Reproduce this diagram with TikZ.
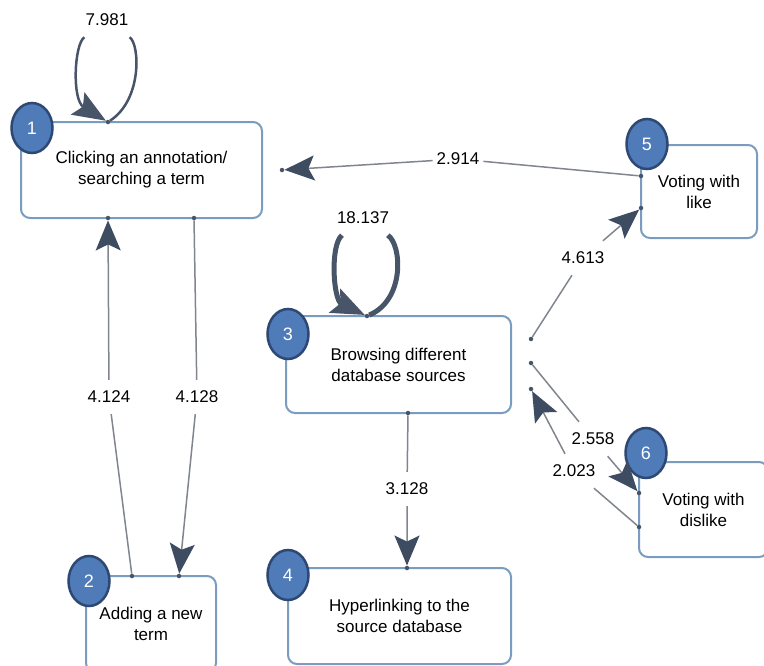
\documentclass[tikz,border=0pt]{standalone}
\usepackage{fontspec}
\setmainfont{Liberation Sans}
\usetikzlibrary{arrows.meta,shapes.geometric}
\definecolor{boxline}{RGB}{122,156,190}
\definecolor{badgefill}{RGB}{79,123,185}
\definecolor{badgeline}{RGB}{45,72,115}
\definecolor{edgegray}{RGB}{128,133,142}
\definecolor{tipdark}{RGB}{62,76,98}
\definecolor{loopdark}{RGB}{72,84,104}
\tikzset{
	statebox/.style={draw=boxline, line width=2pt, rounded corners=9pt, fill=white, align=center, inner sep=0pt, font=\fontsize{17}{21}\selectfont},
	badge/.style={ellipse, draw=badgeline, line width=2.5pt, fill=badgefill, text=white, minimum width=41pt, minimum height=50pt, inner sep=0pt, font=\fontsize{18}{18}\selectfont},
	port/.style={circle, fill=loopdark, inner sep=0pt, minimum size=4.5pt},
	weight/.style={inner xsep=4pt, inner ysep=11pt, font=\fontsize{17}{20}\selectfont},
	flow/.style={draw=edgegray, line width=1.5pt, -{Stealth[length=30pt,width=25pt,inset=6pt,color=tipdark]}},
	selfloop/.style={draw=loopdark, line width=#1, -{Stealth[length=33pt,width=26pt,inset=6pt]}}
}
\begin{document}
\begin{tikzpicture}[x=1pt, y=-1pt]
	\useasboundingbox (0,0) rectangle (764,665);
	\node[statebox, minimum width=241pt, minimum height=96pt] (click) at (141.5,170) {Clicking an annotation/\\searching a term};
	\node[statebox, minimum width=130pt, minimum height=96pt] (addterm) at (151,624) {Adding a new\\term};
	\node[statebox, minimum width=225pt, minimum height=97pt] (browse) at (398.5,364.5) {Browsing different\\database sources};
	\node[statebox, minimum width=223pt, minimum height=96pt] (hyperlink) at (399.5,616) {Hyperlinking to the\\source database};
	\node[statebox, minimum width=116pt, minimum height=93pt] (like) at (699,191.5) {Voting with\\like};
	\node[statebox, minimum width=129pt, minimum height=95pt] (dislike) at (703.5,509.5) {Voting with\\dislike};
	\node[badge] (b1) at (32,128) {1};
	\node[badge] (b2) at (89,581) {2};
	\node[badge] (b3) at (288,334) {3};
	\node[badge] (b4) at (288,575) {4};
	\node[badge] (b5) at (647,144) {5};
	\node[badge] (b6) at (646,453) {6};
	\node[port] (p1t) at (108,122) {};
	\node[port] (p1b) at (108,218) {};
	\node[port] (p1c) at (194,218) {};
	\node[port] (p1r) at (282,170) {};
	\node[port] (p2a) at (132,576) {};
	\node[port] (p2b) at (179,576) {};
	\node[port] (p3t) at (367,316) {};
	\node[port] (p3b) at (408,413) {};
	\node[port] (p3r) at (531,339) {};
	\node[port] (p3s) at (531,363) {};
	\node[port] (p3u) at (531,389) {};
	\node[port] (p4t) at (407,568) {};
	\node[port] (p5a) at (641,176) {};
	\node[port] (p5b) at (641,208) {};
	\node[port] (p6a) at (639,493) {};
	\node[port] (p6b) at (639,527) {};
	\node[weight] (w7981) at (107,20) {7.981};
	\node[weight] (w18137) at (363,218) {18.137};
	\node[weight] (w4124) at (109,397) {4.124};
	\node[weight] (w4128) at (197,397) {4.128};
	\node[weight] (w2914) at (458,159) {2.914};
	\node[weight] (w4613) at (583,258) {4.613};
	\node[weight] (w2558) at (593,439) {2.558};
	\node[weight] (w2023) at (574,471) {2.023};
	\node[weight] (w3128) at (407,489) {3.128};
	\draw[selfloop=2.5pt] (p1t) .. controls (142,100) and (140,45) .. (w7981) .. controls (74,45) and (72,100) .. (p1t);
	\draw[selfloop=5pt] (p3t) .. controls (405,300) and (402,245) .. (w18137) .. controls (330,245) and (333,300) .. (p3t);
	\draw[flow] (p2a) -- (w4124) -- (p1b);
	\draw[flow] (p1c) -- (w4128) -- (p2b);
	\draw[flow] (p5a) -- (w2914) -- (p1r);
	\draw[flow] (p3r) -- (w4613) -- (p5b);
	\draw[flow] (p3s) -- (w2558) -- (p6a);
	\draw[flow] (p6b) -- (w2023) -- (p3u);
	\draw[flow] (p3b) -- (w3128) -- (p4t);
\end{tikzpicture}
\end{document}
